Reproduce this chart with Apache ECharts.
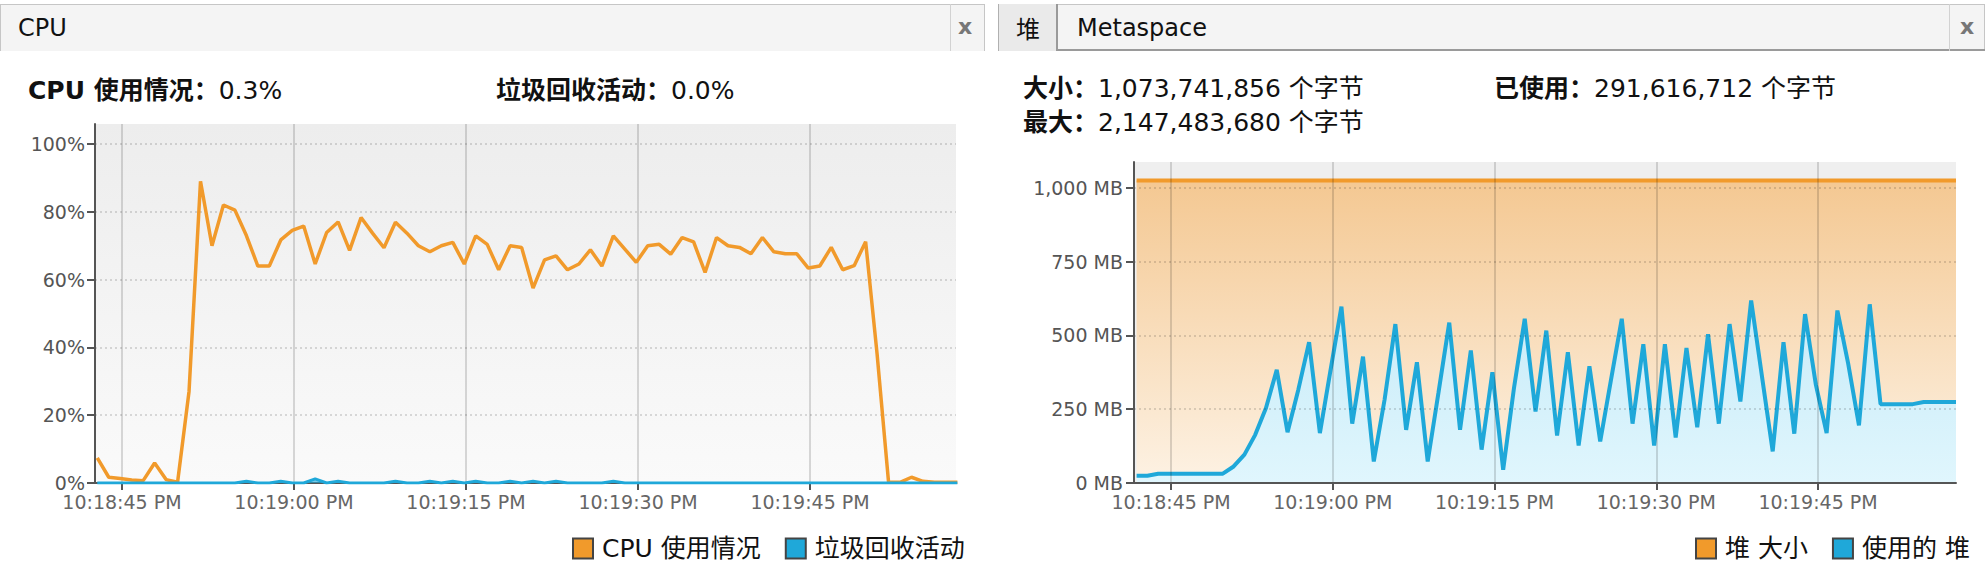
<!DOCTYPE html>
<html>
<head>
<meta charset="utf-8">
<script src="https://cdn.jsdelivr.net/npm/echarts@6/dist/echarts.min.js"></script>
<style>
html,body{margin:0;padding:0;background:#fff;width:1986px;height:568px;overflow:hidden;
  font-family:"DejaVu Sans","Noto Sans CJK SC",sans-serif;color:#111;}
#chart{position:absolute;left:0;top:0;width:1986px;height:568px;}
.abs{position:absolute;white-space:nowrap;}
.bar{position:absolute;top:4px;height:47px;background:#f4f4f4;border-top:1px solid #c6c6c6;box-sizing:border-box;}
.tabtxt{position:absolute;font-size:24px;line-height:30px;top:13px;color:#111;}
.close{position:absolute;top:12px;font-size:22px;line-height:30px;color:#777;font-weight:bold;}
.vsep{position:absolute;top:4px;height:47px;width:1px;background:#d2d2d2;}
.stat{position:absolute;font-size:25px;line-height:30px;white-space:nowrap;color:#111;}
.stat b{font-weight:bold;}
</style>
</head>
<body>
<div id="chart"></div>

<!-- left panel header -->
<div class="bar" style="left:0;width:984px;border-left:1px solid #c6c6c6;"></div>
<div class="tabtxt" style="left:18px;">CPU</div>
<div class="vsep" style="left:950px;"></div>
<div class="close" style="left:958px;">x</div>
<div class="vsep" style="left:984px;background:#c6c6c6;"></div>

<!-- right panel header -->
<div class="bar" style="left:998px;width:987px;border-right:1px solid #c6c6c6;"></div>
<div class="abs" style="left:998px;top:4px;width:60px;height:47px;background:#eaeaea;border-left:1px solid #b0b0b0;border-right:2px solid #9a9a9a;box-sizing:border-box;"></div>
<div class="abs" style="left:1058px;top:49px;width:927px;height:2px;background:#9a9a9a;"></div>
<div class="tabtxt" style="left:1016px;font-family:'Noto Sans CJK SC',sans-serif;">堆</div>
<div class="tabtxt" style="left:1077px;">Metaspace</div>
<div class="vsep" style="left:1949px;"></div>
<div class="close" style="left:1960px;">x</div>

<!-- stats -->
<div class="stat" style="left:28px;top:76px;"><b>CPU 使用情况：</b>0.3%</div>
<div class="stat" style="left:496px;top:76px;"><b>垃圾回收活动：</b>0.0%</div>
<div class="stat" style="left:1023px;top:74px;"><b>大小：</b>1,073,741,856 个字节</div>
<div class="stat" style="left:1023px;top:108px;"><b>最大：</b>2,147,483,680 个字节</div>
<div class="stat" style="left:1494px;top:74px;"><b>已使用：</b>291,616,712 个字节</div>

<script>
// ---- data (seconds relative to 10:18:45 PM) ----
const baseClockSec = 22 * 3600 + 18 * 60 + 45;   // 10:18:45 PM
const sampleStepSec = 1;
const cpuStartSec = -2.15;
const heapStartSec = -3.2;

const cpuUsage = [7.4, 1.7, 1.3, 0.9, 0.7, 5.9, 1.0, 0.2, 27, 89,
  70, 82, 80.5, 73, 64, 64, 71.7, 74.5, 75.8, 64.6,
  73.9, 77, 68.6, 78.3, 73.7, 69.4, 76.9, 73.7, 70, 68.2,
  70, 71, 64.6, 72.9, 70.4, 62.9, 70, 69.5, 57.5, 65.8,
  67, 62.9, 64.6, 68.8, 64, 72.9, 69, 65.1, 70, 70.4,
  67.5, 72.4, 71.1, 62.1, 72.4, 70, 69.5, 67.6, 72.4, 68.2,
  67.6, 67.6, 63.4, 64, 69.5, 62.9, 64.1, 71.2, 38, 0.2,
  0.2, 1.7, 0.5, 0.2, 0.2, 0.2];

const gcActivity = [0, 0, 0, 0, 0, 0, 0, 0, 0, 0,
  0, 0, 0, 0.5, 0, 0, 0.5, 0, 0, 1.2,
  0, 0.5, 0, 0, 0, 0, 0.5, 0, 0, 0.5,
  0, 0.5, 0, 0.5, 0, 0, 0.5, 0, 0.5, 0,
  0.5, 0, 0, 0, 0, 0.5, 0, 0, 0, 0,
  0, 0, 0, 0, 0, 0, 0, 0, 0, 0,
  0, 0, 0, 0, 0, 0, 0, 0, 0, 0,
  0, 0, 0, 0, 0, 0];

const heapSizeMB = [1024, 1024, 1024, 1024, 1024, 1024, 1024, 1024, 1024, 1024,
  1024, 1024, 1024, 1024, 1024, 1024, 1024, 1024, 1024, 1024,
  1024, 1024, 1024, 1024, 1024, 1024, 1024, 1024, 1024, 1024,
  1024, 1024, 1024, 1024, 1024, 1024, 1024, 1024, 1024, 1024,
  1024, 1024, 1024, 1024, 1024, 1024, 1024, 1024, 1024, 1024,
  1024, 1024, 1024, 1024, 1024, 1024, 1024, 1024, 1024, 1024,
  1024, 1024, 1024, 1024, 1024, 1024, 1024, 1024, 1024, 1024,
  1024, 1024, 1024, 1024, 1024, 1024, 1024];

const heapUsedMB = [24.8, 24.8, 31.6, 31.6, 31.6, 31.6, 31.6, 31.6, 31.6, 56,
  96, 163, 254, 383, 172, 316, 477, 169, 385, 597,
  201, 428, 73, 282, 538, 180, 409, 73, 306, 543,
  180, 449, 113, 375, 45, 321, 556, 242, 516, 161,
  443, 127, 395, 141, 349, 556, 201, 470, 127, 470,
  154, 457, 189, 504, 201, 538, 276, 618, 362, 107,
  477, 167, 572, 333, 169, 584, 404, 195, 605, 267,
  267, 267, 267, 274, 274, 274, 274];

const cpuLegend = ['CPU 使用情况', '垃圾回收活动'];
const heapLegend = ['堆 大小', '使用的 堆'];

// ---- helpers ----
function pad(n) { return (n < 10 ? '0' : '') + n; }
function clockLabel(v) {
  const s = Math.round(baseClockSec + v);
  const h = Math.floor(s / 3600) % 24, m = Math.floor(s / 60) % 60, sec = s % 60;
  let hh = h % 12; if (hh === 0) hh = 12;
  return hh + ':' + pad(m) + ':' + pad(sec) + ' ' + (h >= 12 ? 'PM' : 'AM');
}
function pairs(start, vals) { return vals.map((v, i) => [start + i * sampleStepSec, v]); }

const FONT = '"DejaVu Sans","Noto Sans CJK SC",sans-serif';
const ORANGE = '#f19a2b';
const BLUE = '#1fa8d9';

function xAxisCfg(grid, min, max, z) {
  return {
    type: 'value', gridIndex: grid, min: min, max: max,
    minInterval: 15, maxInterval: 15, z: z,
    axisLine: { show: true, onZero: false, lineStyle: { color: '#555', width: 2 } },
    axisTick: { show: true, length: 7, lineStyle: { color: '#555', width: 2 } },
    axisLabel: { color: '#666', fontSize: 19, margin: 9, fontFamily: FONT,
      showMinLabel: false, showMaxLabel: false, formatter: clockLabel },
    splitLine: { show: true, showMinLine: false, showMaxLine: false,
      lineStyle: { color: 'rgba(0,0,0,0.14)', width: 2 } }
  };
}
function yAxisCfg(grid, max, interval, fmt, margin, z) {
  return {
    type: 'value', gridIndex: grid, min: 0, max: max, interval: interval, z: z,
    axisLine: { show: true, onZero: false, lineStyle: { color: '#555', width: 2 } },
    axisTick: { show: true, length: 8, lineStyle: { color: '#555', width: 2 } },
    axisLabel: { color: '#555', fontSize: 19, margin: margin, fontFamily: FONT,
      showMaxLabel: false, formatter: fmt },
    splitLine: { show: true, showMaxLine: false, showMinLine: false,
      lineStyle: { color: 'rgba(0,0,0,0.18)', width: 1.5, type: [2, 3] } }
  };
}

const chart = echarts.init(document.getElementById('chart'), null, { renderer: 'svg' });
chart.setOption({
  animation: false,
  backgroundColor: '#fff',
  textStyle: { fontFamily: FONT },
  grid: [
    { left: 95, top: 124, width: 861, height: 359, show: true, borderWidth: 0,
      backgroundColor: { type: 'linear', x: 0, y: 0, x2: 0, y2: 1,
        colorStops: [{ offset: 0, color: '#ededed' }, { offset: 1, color: '#fafafa' }] } },
    { left: 1134, top: 162, width: 822, height: 321, show: true, borderWidth: 0,
      backgroundColor: '#efefef' }
  ],
  xAxis: [
    xAxisCfg(0, -2.35, 72.73, 0),
    xAxisCfg(1, -3.44, 72.8, 4)
  ],
  yAxis: [
    yAxisCfg(0, 105.9, 20, '{value}%', 10, 0),
    yAxisCfg(1, 1087, 250, v => v.toLocaleString('en-US') + ' MB', 11, 4)
  ],
  legend: [
    { data: cpuLegend, left: 572, top: 536, padding: 0, itemWidth: 20, itemHeight: 20,
      itemGap: 24, icon: 'rect', selectedMode: false,
      itemStyle: { borderColor: '#444', borderWidth: 2 },
      textStyle: { fontSize: 25, color: '#111', fontFamily: FONT, padding: [0, 0, 0, 4] } },
    { data: heapLegend, left: 1695, top: 536, padding: 0, itemWidth: 20, itemHeight: 20,
      itemGap: 24, icon: 'rect', selectedMode: false,
      itemStyle: { borderColor: '#444', borderWidth: 2 },
      textStyle: { fontSize: 25, color: '#111', fontFamily: FONT, padding: [0, 0, 0, 4] } }
  ],
  series: [
    { name: cpuLegend[0], type: 'line', xAxisIndex: 0, yAxisIndex: 0,
      data: pairs(cpuStartSec, cpuUsage), showSymbol: false, color: ORANGE,
      lineStyle: { color: ORANGE, width: 3.5 }, z: 3, clip: true },
    { name: cpuLegend[1], type: 'line', xAxisIndex: 0, yAxisIndex: 0,
      data: pairs(cpuStartSec, gcActivity), showSymbol: false, color: BLUE,
      lineStyle: { color: BLUE, width: 3 }, z: 4, clip: true,
      areaStyle: { color: BLUE, opacity: 0.6 } },
    { name: heapLegend[0], type: 'line', xAxisIndex: 1, yAxisIndex: 1,
      data: pairs(heapStartSec, heapSizeMB), showSymbol: false, color: ORANGE,
      lineStyle: { color: ORANGE, width: 4 }, z: 2, clip: true,
      areaStyle: { opacity: 1, color: { type: 'linear', x: 0, y: 0, x2: 0, y2: 1,
        colorStops: [{ offset: 0, color: '#f4c892' }, { offset: 1, color: '#fdf2e4' }] } } },
    { name: heapLegend[1], type: 'line', xAxisIndex: 1, yAxisIndex: 1,
      data: pairs(heapStartSec, heapUsedMB), showSymbol: false, color: BLUE,
      lineStyle: { color: BLUE, width: 4 }, z: 3, clip: true,
      areaStyle: { opacity: 1, color: { type: 'linear', x: 0, y: 0, x2: 0, y2: 1,
        colorStops: [{ offset: 0, color: '#c7ebf8' }, { offset: 1, color: '#e0f6fd' }] } } }
  ]
});
</script>
</body>
</html>
